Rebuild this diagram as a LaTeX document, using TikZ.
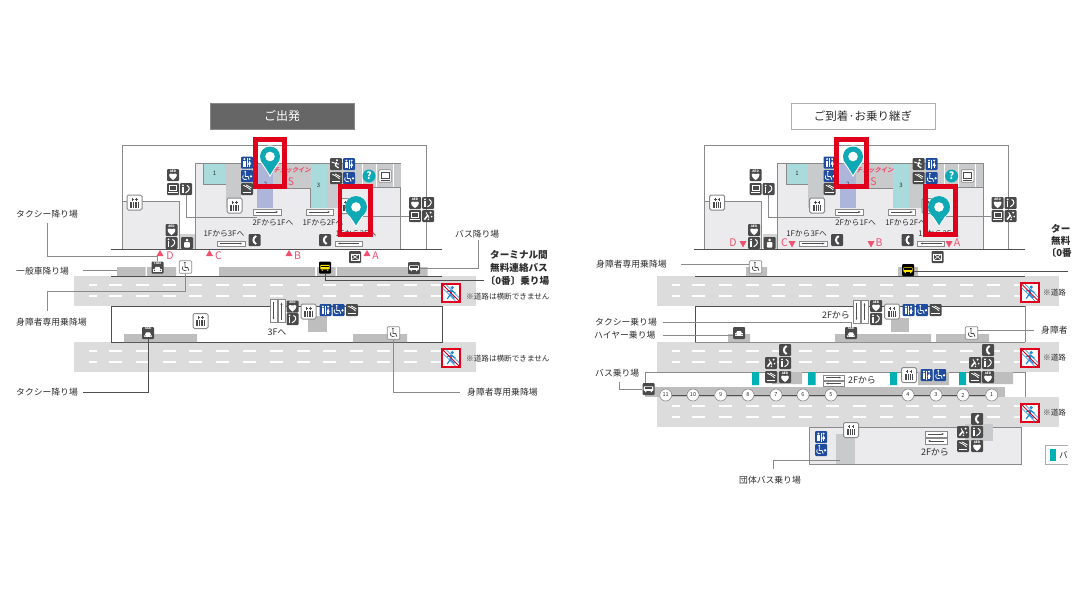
\documentclass[tikz,border=0pt]{standalone}
\usepackage{fontspec}
\setmainfont{Noto Sans CJK JP}
\usetikzlibrary{arrows.meta}
\definecolor{icondk}{HTML}{4A4A4A}
\definecolor{iconbl}{HTML}{1F4C9E}
\definecolor{txtc}{HTML}{2E2E2E}
\definecolor{roadc}{HTML}{DCDCDC}
\definecolor{stripc}{HTML}{BEBEBE}
\definecolor{bandc}{HTML}{C9CACB}
\definecolor{lightc}{HTML}{EBEBED}
\definecolor{linec}{HTML}{8A8A8A}
\definecolor{darkl}{HTML}{4F4F4F}
\definecolor{pinc}{HTML}{0FA9B5}
\definecolor{tealp}{HTML}{A9DBDC}
\definecolor{tealr}{HTML}{00B0B2}
\definecolor{lilac}{HTML}{AEB5DA}
\definecolor{pinkc}{HTML}{F0506E}
\definecolor{redc}{HTML}{E0001B}
\definecolor{ncblue}{HTML}{1E88D2}
\definecolor{headc}{HTML}{666666}
\tikzset{
  dk/.style={fill=icondk,rounded corners=1pt,minimum size=12pt,inner sep=0pt},
  bl/.style={fill=iconbl,rounded corners=1pt,minimum size=12pt,inner sep=0pt},
  wh/.style={fill=white,draw=linec,line width=.7pt,rounded corners=1pt,minimum size=12.5pt,inner sep=0pt},
  el/.style={fill=white,draw=linec,line width=1pt,rounded corners=1.5pt,minimum size=15pt,inner sep=0pt},
  lab/.style={font=\fontsize{8.8}{9}\selectfont,text=txtc,anchor=west,inner sep=0pt},
  labb/.style={font=\fontsize{9.6}{10}\bfseries\selectfont,text=txtc,anchor=west,inner sep=0pt},
  note/.style={font=\fontsize{7.6}{8}\selectfont,text=txtc,anchor=west,inner sep=0pt},
  sm/.style={font=\fontsize{7.8}{8}\selectfont,text=txtc,inner sep=0pt},
  pk/.style={font=\fontsize{10.5}{11}\selectfont,text=pinkc,inner sep=0pt},
  lead/.style={draw=linec,line width=.7pt},
  leadk/.style={draw=darkl,line width=.8pt},
  wl/.style={draw=white,line width=1.1pt},
  arbx/.style={fill=white,draw=linec,line width=.5pt,inner sep=0pt},
  stopc/.style={circle,fill=white,draw=linec,line width=.6pt,minimum size=12pt,inner sep=0pt,font=\fontsize{5.5}{6}\selectfont,text=txtc},
  tiny/.style={font=\fontsize{3.2}{3.5}\bfseries\selectfont,text=white,inner sep=0pt},
  ncr/.style={fill=white,draw=redc,line width=1.6pt,minimum size=18.5pt,inner sep=0pt},
  hd/.style={minimum width=144pt,minimum height=26pt,inner sep=0pt},
}
% ---- glyphs, centred on the icon, y pointing down
\newcommand\glaed{\node[tiny] at (0,-4) {AED};
  \fill[white] (0,5) .. controls (-6,1) and (-4.5,-3) .. (0,-1) .. controls (4.5,-3) and (6,1) .. (0,5);}
\newcommand\glpc{\draw[white,line width=.8pt] (-3.4,-3.6) rectangle (3.4,1.2);
  \fill[white] (-4.6,2.6) rectangle (4.6,3.8);}
\newcommand\glinfo{\fill[white] (-3,-3.6) circle (1);
  \draw[white,line width=1.5pt] (-3,-1.6) -- (-3,4);
  \draw[white,line width=1pt] (1,-3.6) .. controls (4.5,-2) and (4,1.6) .. (-.5,3.8);}
\newcommand\glsmoke{\draw[white,line width=1.2pt] (-4.4,3.2) -- (4.4,3.2);
  \draw[white,line width=.8pt] (-3.6,-3.8) .. controls (-1,-2) and (1,-2) .. (3.6,1);
  \draw[white,line width=.8pt] (-1,-4) .. controls (1,-3) and (3,-2) .. (4.4,-1);}
\newcommand\glphone{\draw[white,line width=2pt] (1.6,-4) .. controls (-2,-2) and (-2,2) .. (1.6,4);}
\newcommand\glspray{\draw[white,line width=1.6pt] (-3.6,3.6) -- (0,-1);
  \fill[white] (2.6,-3.4) circle (1.1) (3.6,.6) circle (.9) (.4,3.4) circle (.9);
  \draw[white,line width=.8pt] (-2,-3.6) -- (1,1.8);}
\newcommand\glstair{\fill[white] (1,-3.8) circle (1.2);
  \draw[white,line width=1.3pt] (.6,-2) -- (-.6,1.6) -- (2.6,4);
  \draw[white,line width=.9pt] (-4.4,-2) -- (-1,-.8) -- (3,.2);}
\newcommand\glnurse{\fill[white] (0,-3) circle (1.5);
  \fill[white,rounded corners=.8pt] (-2.8,-1) rectangle (2.8,4.6);}
\newcommand\glwc{\fill[white] (-2.6,-3.4) circle (1.1) (2.6,-3.4) circle (1.1);
  \fill[white] (-3.8,-1.8) rectangle (-1.4,4.2);
  \fill[white] (2.6,-2) -- (4.2,2) -- (1,2) -- cycle;
  \fill[white] (1.9,1.6) rectangle (3.3,4.2);
  \draw[white,line width=.4pt] (0,-4.4) -- (0,4.6);}
\newcommand\glwheel[1]{\fill[#1] (-.6,-4.2) circle (1);
  \draw[#1,line width=.8pt] (-.6,-3) -- (-.6,.5) -- (2.2,.5) -- (3.4,3.6);
  \draw[#1,line width=.7pt] (-2.5,-.6) .. controls (-4.4,1.6) and (-2,4.6) .. (1,3.2);}
\newcommand\glacc{\begin{scope}[shift={(-1.2,0)}]\glwheel{white}\end{scope}\fill[white] (4,.3) circle (1.3);}
\newcommand\glcar{\fill[white] (-4.4,.4) rectangle (4.4,3);
  \fill[white] (-3,.6) -- (-2,-1.8) -- (2,-1.8) -- (3,.6) -- cycle;
  \fill[icondk] (-3,1.6) circle (.7) (3,1.6) circle (.7);}
\newcommand\gltaxi{\node[tiny] at (0,-4.2) {TAXI};\begin{scope}[shift={(0,1.2)}]\glcar\end{scope}}
\newcommand\glbus{\fill[white,rounded corners=.6pt] (-4.8,-2.6) rectangle (4.8,1.8);
  \fill[icondk] (-3.9,-1.7) rectangle (3.9,-.4);
  \fill[white] (-2.8,2.6) circle (.8) (2.8,2.6) circle (.8);}
\newcommand\glbusk{\fill[yellow!85!orange,rounded corners=.6pt] (-4.6,-2.6) rectangle (4.6,1.8);
  \fill[black] (-3.8,-1.7) rectangle (3.8,-.4);
  \fill[yellow!85!orange] (-2.8,2.6) circle (.8) (2.8,2.6) circle (.8);}
\newcommand\glmail{\draw[white,line width=.7pt] (-4,-3) rectangle (4,3);
  \draw[white,line width=.6pt] (-4,-3) -- (4,3) (4,-3) -- (-4,3);}
% ---- icons
\newcommand\dkic[4]{\node[dk] (#2) at (#3,#4) {};\begin{scope}[shift={(#3,#4)}]\csname gl#1\endcsname\end{scope}}
\newcommand\blic[4]{\node[bl] (#2) at (#3,#4) {};\begin{scope}[shift={(#3,#4)}]\csname gl#1\endcsname\end{scope}}
\newcommand\whacc[3]{\node[wh] (#1) at (#2,#3) {};\begin{scope}[shift={(#2,#3)}]\glwheel{icondk}\end{scope}}
\newcommand\elev[3]{\node[el] (#1) at (#2,#3) {};\begin{scope}[shift={(#2,#3)}]
  \fill[icondk] (-4.2,-.6) rectangle (4.2,5);
  \draw[white,line width=.4pt] (-2.2,-.6) -- (-2.2,5) (0,-.6) -- (0,5) (2.2,-.6) -- (2.2,5);
  \draw[icondk,line width=.6pt] (-1.8,-5) -- (-1.8,-1.6) (-3,-3.6) -- (-.6,-3.6) (1.8,-5) -- (1.8,-1.6) (.6,-3.6) -- (3,-3.6);
  \end{scope}}
\newcommand\nocross[3]{\node[ncr] (#1) at (#2,#3) {};\begin{scope}[shift={(#2,#3)}]
  \draw[ncblue,line width=.6pt] (-8.5,-5) -- (5,8.5) (-5,-8.5) -- (8.5,5);
  \fill[ncblue] (1.2,-5.4) circle (1.7);
  \draw[ncblue,line width=2pt] (.6,-3) -- (-.6,1.4);
  \draw[ncblue,line width=1.2pt] (-.6,1.4) -- (-3.8,6) (-.6,1.4) -- (3.4,5.4) (-4,-1.4) -- (.6,-2.6) -- (4.4,.2);
  \draw[redc,line width=.9pt] (-8.5,-8.5) -- (8.5,8.5);
  \end{scope}}
\newcommand\harrow[6]{\node[arbx,minimum width=#4pt,minimum height=#5pt] (#1) at (#2,#3) {};
  \draw[darkl,line width=.4pt,#6] ([xshift=3pt]#1.west) -- ([xshift=-3pt]#1.east);}
\newcommand\varrow[4]{\node[arbx,minimum width=7pt,minimum height=23pt] (#1) at (#2,#3) {};
  \draw[darkl,line width=.5pt,#4] ([yshift=-3pt]#1.north) -- ([yshift=3pt]#1.south);}
\tikzset{fwd/.style={-{Latex[length=2.5pt,width=2pt]}},bwd/.style={{Latex[length=2.5pt,width=2pt]}-}}
\newcommand\road[2]{\fill[roadc] (#1,#2) rectangle ++(402,30);
  \draw[wl] (#1+15,#2+9) -- ++(8,0) (#1+15,#2+20) -- ++(8,0);
  \foreach \kk in {0,...,12}{\draw[wl] (#1+35+\kk*26.8,#2+9) -- ++(13,0) (#1+35+\kk*26.8,#2+20) -- ++(13,0);}}
\newcommand\pinmark[3]{\begin{scope}[shift={(#2,#3)}]
  \fill[white] (0,0) circle (11.2);
  \fill[white] (-10.6,3) .. controls (-8,9) and (-3,14) .. (0,20.5) .. controls (3,14) and (8,9) .. (10.6,3) -- cycle;
  \fill[pinc] (0,0) circle (#1);
  \fill[pinc] (-#1+.4,3) .. controls (-7,8) and (-3,13) .. (0,18.5) .. controls (3,13) and (7,8) .. (#1-.4,3) -- cycle;
  \fill[white] (0,0) circle (4.8);
  \end{scope}}
% ---- the terminal building, common to both maps
\newcommand\terminal[1]{%
  \draw[draw=linec,line width=.8pt,fill=white] (122,249) -- (122,145.5) -- (426,145.5) -- (426,249);
  \draw[draw=linec,line width=.7pt,fill=lightc] (122,249) -- (122,201) -- (179,201) -- (179,249);
  \fill[stripc!70!white] (180,234) rectangle (195,249);
  \draw[draw=linec,line width=.6pt,fill=lightc] (195,249) -- (195,163.5) -- (400.5,163.5) -- (400.5,249);
  \fill[bandc] (225.5,163.5) rectangle (241,208);
  \fill[bandc] (241,163.5) rectangle (257,188);
  \fill[tealp] (203.5,163.5) rectangle (225.5,184.5);
  \draw[linec,line width=.8pt] (203.5,163.5) -- (203.5,184.5) -- (225.5,184.5);
  \fill[lilac] (257,163.5) rectangle (273,208);
  \fill[bandc] (273,163.5) rectangle (310.5,188);
  \draw[linec,line width=.5pt] (273,188) -- (310.5,188) -- (310.5,208);
  \fill[tealp] (310.5,163.5) rectangle (326.5,208);
  \fill[bandc] (326.5,163.5) rectangle (340,208);
  \fill[bandc] (340,163.5) rectangle (400.5,187);
  \draw[linec,line width=.5pt] (357,187) -- (400.5,187);
  \foreach \xx in {362,376,393}{\draw[white,line width=.6pt] (\xx,163.5) -- (\xx,187);}
  \draw[linec,line width=.6pt] (186,194) |- (257,217);
  \node[font=\fontsize{6}{6}\selectfont,text=txtc,inner sep=0pt] (#1n1) at (214.5,173.5) {1};
  \node[font=\fontsize{6}{6}\selectfont,text=txtc,inner sep=0pt] (#1n2) at (265.5,184) {2};
  \node[font=\fontsize{6}{6}\selectfont,text=txtc,inner sep=0pt] (#1n3) at (318.5,185.5) {3};
  \node[font=\fontsize{6.2}{6.5}\bfseries\selectfont,text=pinkc,inner sep=0pt,xslant=.2] (#1ci) at (292.5,170.5) {チェックイン};
  \node[pk] (#1s) at (291,182) {S};
  \dkic{aed}{#1a1}{173}{175}\dkic{pc}{#1p1}{173}{189}\dkic{info}{#1i1}{186}{189}
  \elev{#1e1}{134.5}{202.5}
  \dkic{aed}{#1a2}{171.5}{230}\dkic{info}{#1i2}{171.5}{243}\dkic{nurse}{#1u1}{187}{243}
  \elev{#1e2}{234.5}{205.5}
  \blic{wc}{#1w1}{247}{162.5}\blic{acc}{#1h1}{247}{176}\dkic{smoke}{#1m1}{247}{189}
  \dkic{stair}{#1t1}{336}{164}\blic{wc}{#1w2}{349}{164}
  \dkic{smoke}{#1m2}{336}{178}\blic{acc}{#1h2}{349}{178}
  \node[circle,fill=pinc,minimum size=13pt,inner sep=0pt,font=\fontsize{10}{10}\bfseries\selectfont,text=white] (#1q) at (369,176) {?};
  \node[wh] (#1sc) at (385,176) {};
  \draw[icondk,line width=.6pt] (381,172.5) rectangle (389,178);
  \fill[icondk] (380.5,179.6) rectangle (389.5,180.6);
  \dkic{aed}{#1a3}{415}{203}\dkic{info}{#1i3}{428}{203}\dkic{pc}{#1p2}{415}{216}\dkic{spray}{#1y1}{428}{216}
  \elev{#1e3}{347}{206}
  \draw[linec,line width=.7pt] (#1e3.east |- #1p2) -- (#1p2);
  \harrow{#1b1}{267}{212}{28}{6}{fwd}
  \node[sm] (#1f1) at (273,222.5) {2Fから1Fへ};
  \harrow{#1b2}{319.5}{212}{27}{6}{fwd}
  \node[sm] (#1f2) at (323,222.5) {1Fから2Fへ};
  \node[sm] (#1f3) at (224,233.5) {1Fから3Fへ};
  \harrow{#1b3}{231}{243.5}{28}{5.5}{fwd}
  \dkic{phone}{#1ph1}{254.5}{240}
  \node[sm] (#1f4) at (356,233.5) {1Fから3Fへ};
  \dkic{phone}{#1ph2}{325}{240}
  \harrow{#1b4}{348.5}{243.5}{27}{5.5}{bwd}
  \draw[draw=darkl,line width=.8pt] (111,249) -- (442,249);
  \dkic{mail}{#1ml}{355}{257}
}
\begin{document}
\begin{tikzpicture}[x=1pt,y=-1pt]
\useasboundingbox (0,0) rectangle (1078,595);
\fill[white] (0,0) rectangle (1078,595);
% ===================== departures =====================
\node[hd,fill=headc,draw=linec,line width=.5pt,text=white,font=\fontsize{12}{12}\selectfont] (hdL) at (282,116) {ご出発};
\terminal{L}
\fill[pinkc] (156.5,256) -- (163.5,256) -- (160,250) -- cycle;
\node[pk] (Ld) at (170,255.5) {D};
\fill[pinkc] (206,256) -- (213,256) -- (209.5,250) -- cycle;
\node[pk] (Lc) at (218.5,255.5) {C};
\fill[pinkc] (285.5,256) -- (292.5,256) -- (289,250) -- cycle;
\node[pk] (Lb) at (297.5,255.5) {B};
\fill[pinkc] (363.5,256) -- (370.5,256) -- (367,250) -- cycle;
\node[pk] (La) at (375.5,255.5) {A};
\fill[stripc] (117,267) rectangle (145.5,276) (147,267) rectangle (176,276) (219,267) rectangle (315,276) (317,267) rectangle (335.5,276) (337,267) rectangle (427.5,276);
\road{74}{276}
\road{74}{342}
\draw[draw=darkl,line width=.8pt] (111,276) -- (442,276);
\draw[draw=darkl,line width=.8pt] (111,342) -- (111,306) -- (442,306) -- (442,342) -- cycle;
\fill[stripc] (124,334) rectangle (197,342) (353,334) rectangle (407,342);
\fill[stripc] (308,316) rectangle (327,332);
\node[lab] (Lt1) at (16,214) {タクシー降り場};
\node[lab] (Lt2) at (16,271) {一般車降り場};
\node[lab] (Lt3) at (16,322) {身障者専用乗降場};
\node[lab] (Lt4) at (16,392) {タクシー降り場};
\node[lab] (Lt5) at (455,234) {バス降り場};
\node[lab] (Lt6) at (467,392) {身障者専用乗降場};
\node[labb] (Lk1) at (490,255) {ターミナル間};
\node[labb] (Lk2) at (490,268) {無料連絡バス};
\node[labb] (Lk3) at (485.5,280.5) {〔0番〕乗り場};
\node[note] (Ln1) at (466,296.5) {※道路は横断できません};
\node[note] (Ln2) at (466,358.5) {※道路は横断できません};
\node[sm,font=\fontsize{9}{9}\selectfont] (L3f) at (277,332) {3Fへ};
\dkic{taxi}{Ltx1}{157.5}{267.5}
\whacc{Lac1}{185.5}{267}
\node[dk,fill=black] (Lbk) at (325,267.5) {};\begin{scope}[shift={(325,267.5)}]\glbusk\end{scope}
\dkic{bus}{Lbs}{414}{268}
\dkic{taxi}{Ltx2}{148}{333}
\elev{Le4}{200.5}{321}
\varrow{Lv1}{273.5}{311}{fwd}
\varrow{Lv2}{281.5}{311}{bwd}
\dkic{aed}{La4}{292.5}{306.5}
\dkic{info}{Li4}{292.5}{319}
\elev{Le5}{308.5}{311.5}
\blic{wc}{Lw3}{325.5}{310}
\blic{acc}{Lh3}{338.5}{310}
\dkic{smoke}{Lm3}{352}{310}
\whacc{Lac2}{393.5}{333}
\nocross{Lnc1}{451}{293}
\nocross{Lnc2}{451}{358}
% leaders
\coordinate (Lc0) at (47,223);
\coordinate (Lc1) at (157.5,256);
\draw[lead] (Lc0) |- (Lc1) -- (Ltx1.north);
\draw[lead] (83,270) -- (117,270);
\coordinate (Lc2) at (185.5,291);
\draw[lead] (Lac1.south) -- (Lc2) -| (47,311);
\coordinate (Lc3) at (478,268);
\draw[lead] (Lbs.east) -- (Lc3) -- (478,240);
\coordinate (Lc4) at (325,280);
\draw[leadk] (Lbk.south) -- (Lc4) -- (484,280);
\draw[leadk] (Ltx2.south) |- (83,392);
\draw[lead] (Lac2.south) |- (460,392);
% ===================== arrivals =====================
\node[hd,fill=white,draw=linec!70!white,line width=.6pt,text=txtc,font=\fontsize{11.5}{12}\selectfont] (hdR) at (863,116) {ご到着·お乗り継ぎ};
\begin{scope}[shift={(582.6,0)}]
\terminal{R}
\end{scope}
\fill[pinkc] (739.5,241) -- (746.5,241) -- (743,247.5) -- cycle;
\node[pk] (Rd) at (733,243) {D};
\fill[pinkc] (788.5,241) -- (795.5,241) -- (792,247.5) -- cycle;
\node[pk] (Rc) at (784.5,243) {C};
\fill[pinkc] (867.5,241) -- (874.5,241) -- (871,247.5) -- cycle;
\node[pk] (Rb) at (879,243) {B};
\fill[pinkc] (945.5,241) -- (952.5,241) -- (949,247.5) -- cycle;
\node[pk] (Ra) at (957,243) {A};
\fill[stripc] (746,267) rectangle (767,276) (898,267) rectangle (918,276);
\road{657}{276}
\road{657}{342}
\road{657}{397}
\draw[draw=darkl,line width=.8pt] (695,276) -- (1025,276);
\draw[draw=darkl,line width=.8pt] (695,342) -- (695,306) -- (1025,306);
\draw[draw=linec,line width=.8pt] (1025,306) -- (1025,342);
\draw[draw=linec,line width=.6pt] (695,342) -- (1025,342);
\fill[stripc] (728,334) rectangle (750,342) (835,334) rectangle (931,342) (936,334) rectangle (989,342);
\fill[stripc] (891,318) rectangle (909,332);
% bus bay
\fill[white] (645,372) rectangle (1025,387);
\fill[white] (1005,387) rectangle (1025,397);
\fill[stripc] (645,387) rectangle (1005,397);
\draw[draw=linec,line width=.7pt] (645,372) -- (1025,372) -- (1025,397);
\fill[stripc] (772,372) rectangle (802,384) (918,372) rectangle (949,385) (980,372) rectangle (1013,384);
\fill[tealr] (752,372) rectangle (759,385) (808,372) rectangle (815.5,385) (890,372) rectangle (897,385) (959,372) rectangle (966,385);
\foreach \nn/\xx in {11/665.7,10/693,9/720.7,8/748,7/776,6/803,5/831,4/908,3/936,2/963,1/991.7}{\node[stopc] (s\nn) at (\xx,395) {\nn};}
\draw[draw=darkl,line width=.5pt] (s11) -- (s10) (s10) -- (s9) (s9) -- (s8) (s8) -- (s7) (s7) -- (s6) (s6) -- (s5) (s5) -- (s4) (s4) -- (s3) (s3) -- (s2) (s2) -- (s1);
% group bus block
\draw[draw=linec,line width=.8pt,fill=lightc] (809,427.5) -- (1021,427.5) -- (1021,464) -- (809,464) -- cycle;
\fill[bandc] (836,434) rectangle (855,464);
\fill[bandc] (965,424) rectangle (993,441);
\node[lab] (Rt1) at (596,264) {身障者専用乗降場};
\node[lab] (Rt2) at (595,322) {タクシー乗り場};
\node[lab] (Rt3) at (594,335) {ハイヤー乗り場};
\node[lab] (Rt4) at (595,373) {バス乗り場};
\node[lab] (Rt5) at (739,480) {団体バス乗り場};
\node[lab] (Rt6) at (1041,330) {身障者};
\node[labb] (Rk1) at (1051,229) {ター};
\node[labb] (Rk2) at (1051,241) {無料};
\node[labb] (Rk3) at (1046.5,252.5) {〔0番};
\node[note] (Rn1) at (1043,292.5) {※道路};
\node[note] (Rn2) at (1043,358) {※道路};
\node[note] (Rn3) at (1043,413) {※道路};
\node[sm,font=\fontsize{9}{9}\selectfont] (Rf1) at (836,315.5) {2Fから};
\node[sm,font=\fontsize{9}{9}\selectfont] (Rf2) at (862,380) {2Fから};
\node[sm,font=\fontsize{9}{9}\selectfont] (Rf3) at (935,452) {2Fから};
\whacc{Rac1}{755.5}{267}
\node[dk,fill=black] (Rbk) at (908,270) {};\begin{scope}[shift={(908,270)}]\glbusk\end{scope}
\dkic{car}{Rhy}{739}{333}
\dkic{taxi}{Rtx}{851}{333}
\whacc{Rac2}{971.5}{333}
\varrow{Rv1}{856.5}{311.5}{fwd}
\varrow{Rv2}{864.5}{311.5}{bwd}
\dkic{aed}{Ra4}{876}{306}
\dkic{info}{Ri4}{876}{319}
\elev{Re4}{892}{311.5}
\blic{wc}{Rw3}{908.5}{310}
\blic{acc}{Rh3}{922}{310}
\dkic{smoke}{Rm3}{935.5}{310}
\dkic{bus}{Rbs}{648.5}{389}
% bay icons, left group
\dkic{phone}{Rg1}{785}{350}
\dkic{spray}{Rg2}{771}{363}\dkic{info}{Rg3}{785}{363}
\dkic{smoke}{Rg4}{771}{377}\dkic{aed}{Rg5}{785}{377}
% bay icons, right group
\dkic{phone}{Rg6}{988}{350}
\dkic{spray}{Rg7}{975}{363}\dkic{info}{Rg8}{988}{363}
\dkic{smoke}{Rg9}{975}{377}\dkic{aed}{Rg10}{988}{377}
\harrow{Rb5}{833.5}{377.5}{21}{5}{fwd}
\harrow{Rb6}{833.5}{383.5}{21}{5}{bwd}
\elev{Re5}{909}{375}
\blic{wc}{Rw4}{926.5}{375}
\blic{acc}{Rh4}{940}{375}
% group bus block icons
\blic{wc}{Rw5}{821}{437}
\blic{acc}{Rh5}{821}{450}
\elev{Re6}{851}{430}
\harrow{Rb7}{936}{434}{22}{5.5}{fwd}
\harrow{Rb8}{936}{441}{22}{5.5}{bwd}
\dkic{phone}{Rg11}{977}{419}
\dkic{spray}{Rg12}{963}{432}\dkic{info}{Rg13}{977}{432}
\dkic{smoke}{Rg14}{963}{446}\dkic{aed}{Rg15}{977}{446}
\nocross{Rnc1}{1030}{292.5}
\nocross{Rnc2}{1030}{358}
\nocross{Rnc3}{1030}{413}
% legend
\draw[draw=linec!70!white,line width=.7pt] (1068,445) -- (1045,445) -- (1045,464) -- (1068,464);
\fill[tealr] (1050,449) rectangle (1056,461);
\node[font=\fontsize{8.6}{9}\selectfont,text=txtc,anchor=west,inner sep=0pt] (Rlg) at (1059,455) {バ};
% leaders
\coordinate (Rc0) at (681,264);
\draw[lead] (Rc0) -- (Rac1.west |- Rc0);
\coordinate (Rc3) at (1068,271.5);
\draw[leadk] (Rbk.east |- Rc3) -- (Rc3);
\coordinate (Rc1) at (851,322);
\draw[lead] (663,322) -- (Rc1) -- (Rtx.north);
\coordinate (Rc4) at (663,335);
\draw[lead] (Rc4) -- (Rhy.west |- Rc4);
\coordinate (Rc5) at (1034,330);
\draw[lead] (Rac2.east |- Rc5) -- (Rc5);
\draw[lead] (619,382) |- (Rbs.west);
\draw[lead] (645,372) -- (645,383);
\coordinate (Rc2) at (773,460);
\draw[lead] (840,460) -- (Rc2) -- (773,469);
% ===================== location markers =====================
\pinmark{10}{270}{156.5}
\pinmark{11}{356}{207}
\draw[draw=redc,line width=4.6pt] (255.3,139.3) rectangle (284.7,186.3);
\draw[draw=redc,line width=4.6pt] (340,186.6) rectangle (370.3,234.3);
\pinmark{10}{853}{156.5}
\pinmark{11}{939}{207}
\draw[draw=redc,line width=4.6pt] (836.2,139.3) rectangle (866.4,186.3);
\draw[draw=redc,line width=4.6pt] (925.3,186.6) rectangle (955.7,234.3);
\end{tikzpicture}
\end{document}
